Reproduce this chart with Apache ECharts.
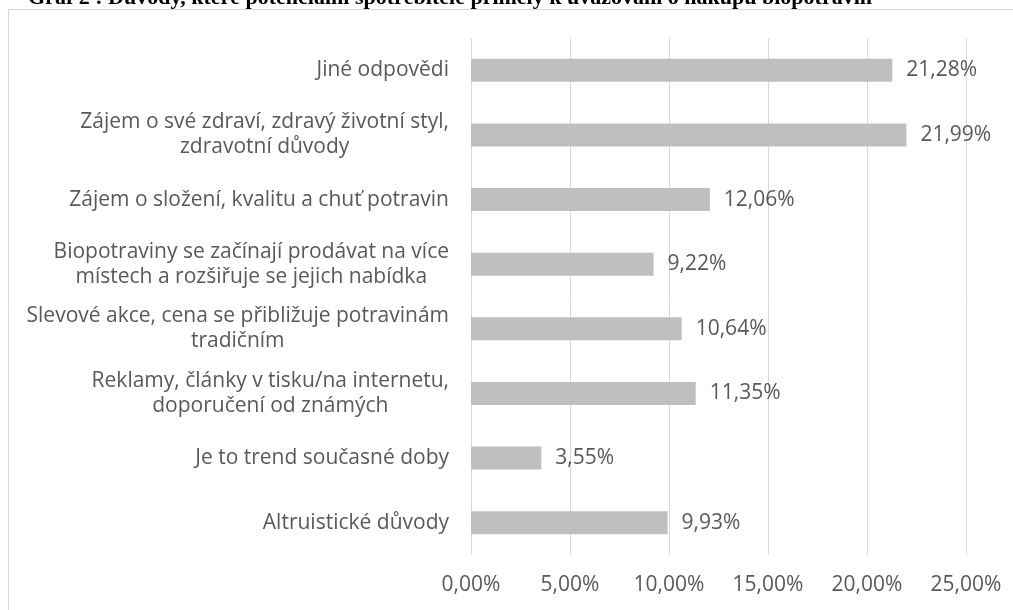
<!DOCTYPE html>
<html>
<head>
<meta charset="utf-8">
<script src="https://cdn.jsdelivr.net/npm/echarts@6/dist/echarts.min.js"></script>
<style>
  html, body { margin: 0; padding: 0; background: #fff; }
  #chart { width: 1013px; height: 610px; }
</style>
</head>
<body>
<div id="chart"></div>
<script>
// Reasons listed from top to bottom (multi-line labels broken with \n)
const categories = [
  'Jiné odpovědi',
  'Zájem o své zdraví, zdravý životní styl,\nzdravotní důvody',
  'Zájem o složení, kvalitu a chuť potravin',
  'Biopotraviny se začínají prodávat na více\nmístech a rozšiřuje se jejich nabídka',
  'Slevové akce, cena se přibližuje potravinám\ntradičním',
  'Reklamy, články v tisku/na internetu,\ndoporučení od známých',
  'Je to trend současné doby',
  'Altruistické důvody'
];
// Share of respondents, in percent
const shares = [21.28, 21.99, 12.06, 9.22, 10.64, 11.35, 3.55, 9.93];
// Value-axis ticks, in percent
const ticks = [0, 5, 10, 15, 20, 25];

const titleText = 'Graf 2 : Důvody, které potenciální spotřebitele přiměly k uvažování o nákupu biopotravin';

const FONT = '"Open Sans", Lato, sans-serif';
const SIZE = 21;
const TEXT = '#595959';
const pct = v => v.toFixed(2).replace('.', ',') + '%';

const chart = echarts.init(document.getElementById('chart'), null, { renderer: 'canvas' });
chart.setOption({
  animation: false,
  backgroundColor: '#ffffff',
  graphic: [
    {
      type: 'rect',
      shape: { x: 8.5, y: 9.5, width: 1200, height: 800 },
      style: { fill: 'none', stroke: '#d9d9d9', lineWidth: 1 },
      silent: true
    },
    {
      type: 'text',
      x: 28, y: -2,
      style: {
        text: titleText,
        font: 'bold 22px "Liberation Serif", "DejaVu Serif", serif',
        fill: '#000000',
        verticalAlign: 'middle',
        align: 'left'
      },
      silent: true
    }
  ],
  grid: { left: 471, right: 47, top: 38, bottom: 55, containLabel: false },
  xAxis: {
    type: 'value',
    min: ticks[0],
    max: ticks[ticks.length - 1],
    interval: ticks[1] - ticks[0],
    axisLine: { show: false },
    axisTick: { show: false },
    splitLine: { show: true, lineStyle: { color: '#d9d9d9', width: 1 } },
    axisLabel: {
      margin: 20,
      fontFamily: FONT,
      fontSize: SIZE,
      color: TEXT,
      formatter: v => pct(v)
    }
  },
  yAxis: {
    type: 'category',
    data: categories,
    inverse: true,
    axisLine: { show: false },
    axisTick: { show: false },
    splitLine: { show: false },
    axisLabel: {
      margin: 22,
      interval: 0,
      formatter: v => v.split('\n').map(l => '{c|' + l + '}').join('\n'),
      rich: {
        c: {
          align: 'center',
          fontFamily: FONT,
          fontSize: SIZE,
          lineHeight: 25,
          color: TEXT
        }
      }
    }
  },
  series: [{
    type: 'bar',
    data: shares,
    barWidth: 23,
    itemStyle: { color: '#bfbfbf' },
    label: {
      show: true,
      position: 'right',
      distance: 14,
      fontFamily: FONT,
      fontSize: SIZE,
      color: TEXT,
      formatter: p => pct(p.value)
    }
  }]
});
</script>
</body>
</html>
